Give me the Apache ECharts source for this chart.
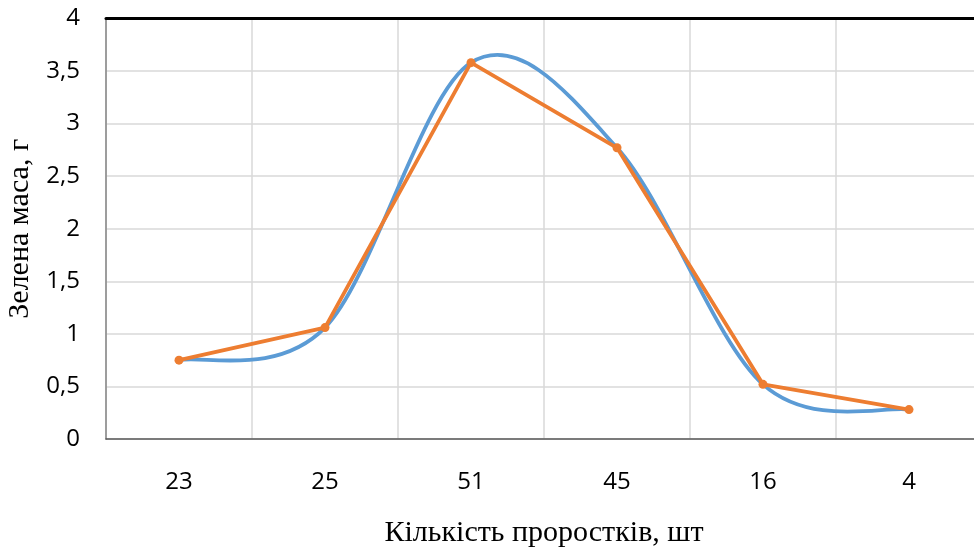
<!DOCTYPE html>
<html>
<head>
<meta charset="utf-8">
<title>Зелена маса</title>
<script src="https://cdn.jsdelivr.net/npm/echarts@6/dist/echarts.min.js"></script>
<style>
  html, body { margin: 0; padding: 0; background: #fff; overflow: hidden; }
  #chart { width: 974px; height: 547px; }
</style>
</head>
<body>
<div id="chart"></div>
<script>
// Кількість проростків (категорії осі X)
const sproutCounts = ['23', '25', '51', '45', '16', '4'];
// Зелена маса, г
const greenMass = [0.75, 1.06, 3.58, 2.77, 0.52, 0.28];
// Позначки осі Y
const yTicks = { min: 0, max: 4, step: 0.5 };

const BLUE = '#5B9BD5';
const ORANGE = '#ED7D31';

// Smoothed curve: cubic Bézier segments with Catmull-Rom tangents (1/6 rule)
function renderSmooth(params, api) {
  const i = params.dataIndex;
  const n = greenMass.length;
  if (i >= n - 1) return null;
  const pt = k => {
    const kk = Math.max(0, Math.min(n - 1, k));
    return api.coord([kk, greenMass[kk]]);
  };
  const p0 = pt(i - 1), p1 = pt(i), p2 = pt(i + 1), p3 = pt(i + 2);
  return {
    type: 'bezierCurve',
    silent: true,
    shape: {
      x1: p1[0], y1: p1[1],
      cpx1: p1[0] + (p2[0] - p0[0]) / 6, cpy1: p1[1] + (p2[1] - p0[1]) / 6,
      cpx2: p2[0] - (p3[0] - p1[0]) / 6, cpy2: p2[1] - (p3[1] - p1[1]) / 6,
      x2: p2[0], y2: p2[1]
    },
    style: { stroke: BLUE, lineWidth: 3.8, fill: null, lineCap: 'round' }
  };
}

const tickFont = { fontFamily: 'Open Sans', fontSize: 24, color: '#000' };
const titleFont = { fontFamily: 'Liberation Serif', fontSize: 30, color: '#000' };

const chart = echarts.init(document.getElementById('chart'), null, { renderer: 'canvas' });
chart.setOption({
  animation: false,
  // plot area runs slightly past the right edge of the canvas
  grid: {
    left: 106, top: 18.5, width: 876, bottom: 108,
    containLabel: false, outerBoundsMode: 'none'
  },
  xAxis: [
    {
      type: 'category',
      data: sproutCounts,
      boundaryGap: true,
      name: 'Кількість проростків, шт',
      nameLocation: 'middle',
      nameGap: 79,
      nameTextStyle: titleFont,
      axisLine: { show: true, lineStyle: { color: '#595959', width: 1.5 } },
      axisTick: { show: false },
      axisLabel: Object.assign({ margin: 31 }, tickFont),
      splitLine: { show: true, lineStyle: { color: '#D9D9D9', width: 1.5 } }
    },
    {
      type: 'category',
      data: sproutCounts,
      position: 'top',
      axisLine: { show: true, lineStyle: { color: '#000', width: 3 } },
      axisTick: { show: false },
      axisLabel: { show: false },
      splitLine: { show: false }
    }
  ],
  yAxis: {
    type: 'value',
    min: yTicks.min,
    max: yTicks.max,
    interval: yTicks.step,
    name: 'Зелена маса, г',
    nameLocation: 'middle',
    nameGap: 70,
    nameTextStyle: titleFont,
    axisLine: { show: true, lineStyle: { color: '#868686', width: 1.5 } },
    axisTick: { show: false },
    axisLabel: Object.assign({
      margin: 26,
      formatter: v => String(v).replace('.', ',')
    }, tickFont),
    splitLine: { show: true, lineStyle: { color: '#D9D9D9', width: 1.5 } }
  },
  series: [
    {
      type: 'custom',
      name: 'smooth',
      renderItem: renderSmooth,
      encode: { x: 0, y: 1 },
      data: greenMass.map((v, i) => [i, v]),
      clip: false,
      z: 2
    },
    {
      type: 'line',
      name: 'Зелена маса',
      data: greenMass,
      lineStyle: { color: ORANGE, width: 3.8 },
      itemStyle: { color: ORANGE },
      symbol: 'circle',
      symbolSize: 9,
      z: 3
    }
  ]
});
</script>
</body>
</html>
